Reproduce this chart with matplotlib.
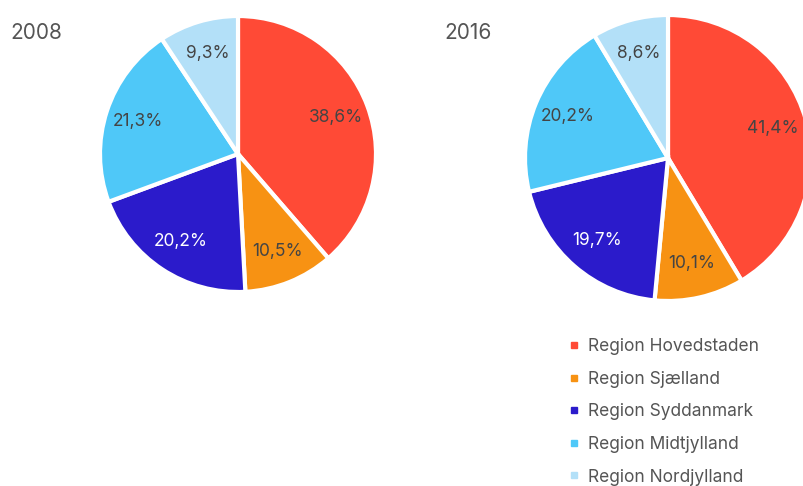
import matplotlib.pyplot as plt
from matplotlib.lines import Line2D

plt.rcParams['font.family'] = ['Inter', 'DejaVu Sans']

regions = ['Region Hovedstaden', 'Region Sjælland', 'Region Syddanmark',
           'Region Midtjylland', 'Region Nordjylland']
colors = ['#FF4A36', '#F79213', '#2B1BCB', '#4FC8F8', '#B3E0F8']
label_colors = ['#444444', '#444444', 'white', '#444444', '#444444']

years = ['2008', '2016']
shares_2008 = [38.6, 10.5, 20.2, 21.3, 9.3]
shares_2016 = [41.4, 10.1, 19.7, 20.2, 8.6]

W, H = 804, 486
fig = plt.figure(figsize=(W / 100, H / 100), dpi=100)


def pie_axes(cx, cy, r):
    return fig.add_axes([(cx - r) / W, (H - cy - r) / H, 2 * r / W, 2 * r / H])


def draw_pie(ax, values):
    wedges, texts, autotexts = ax.pie(
        values, colors=colors, startangle=90, counterclock=False,
        autopct=lambda p: f'{p:.1f}'.replace('.', ',') + '%',
        pctdistance=0.76,
        wedgeprops=dict(edgecolor='white', linewidth=3),
        textprops=dict(fontsize=12.5))
    for t, c in zip(autotexts, label_colors):
        t.set_color(c)
    ax.set_xlim(-1, 1)
    ax.set_ylim(-1, 1)


ax1 = pie_axes(238, 154, 138)
draw_pie(ax1, shares_2008)
ax2 = pie_axes(668, 158, 143)
draw_pie(ax2, shares_2016)

fig.text(10 / W, 1 - 33 / H, years[0], fontsize=15, color='#555555', va='center')
fig.text(444 / W, 1 - 33 / H, years[1], fontsize=15, color='#555555', va='center')

handles = [Line2D([], [], marker='s', linestyle='none', markersize=5,
                  markerfacecolor=c, markeredgecolor=c) for c in colors]
fig.legend(handles, regions, loc='upper left',
           bbox_to_anchor=(569 / W, 1 - 338 / H), frameon=False,
           fontsize=12.5, labelcolor='#555555', handlelength=0.6,
           handletextpad=0.5, labelspacing=0.9, borderpad=0, borderaxespad=0)

fig.savefig('out.png', dpi=100)
